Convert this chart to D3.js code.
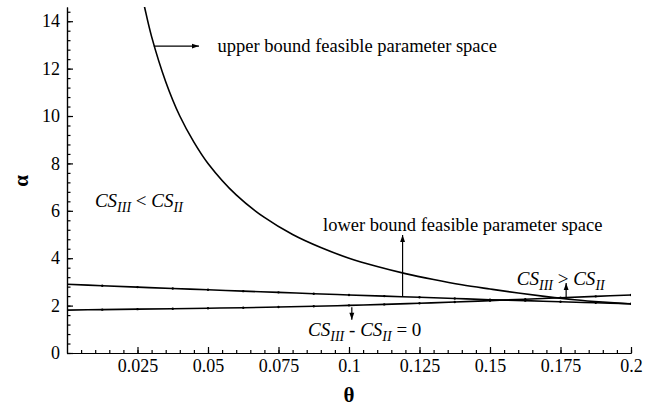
<!DOCTYPE html>
<meta charset="utf-8">
<style>
  body { margin: 0; background: #fff; }
  text { font-family: "Liberation Serif", "Times New Roman", serif; }
</style>
<script src="https://d3js.org/d3.v7.min.js"></script>
<div id="graph"></div>
<script>
  // upper bound curve (theta, alpha)
  var thetaUpper = [0.025, 0.0275, 0.03, 0.035, 0.04, 0.045, 0.05, 0.06, 0.07, 0.08, 0.09, 0.10,
                    0.11, 0.12, 0.13, 0.14, 0.15, 0.16, 0.17, 0.18, 0.19, 0.20];
  var alphaUpper = [16.0, 14.6, 13.35, 11.45, 10.0, 8.9, 8.0, 6.67, 5.72, 5.0, 4.45, 4.0,
                    3.65, 3.35, 3.1, 2.88, 2.7, 2.53, 2.38, 2.25, 2.15, 2.07];

  // the two nearly straight lines
  var thetaLines = [0, 0.0125, 0.025, 0.0375, 0.05, 0.0625, 0.075, 0.0875, 0.1,
                    0.1125, 0.125, 0.1375, 0.15, 0.1625, 0.175, 0.1875, 0.2];
  var alphaLower = [2.90, 2.84, 2.78, 2.72, 2.67, 2.61, 2.56, 2.50, 2.45,
                    2.40, 2.35, 2.30, 2.25, 2.21, 2.16, 2.12, 2.08];
  var alphaZero  = [1.81, 1.83, 1.85, 1.87, 1.89, 1.91, 1.94, 1.97, 2.01,
                    2.05, 2.10, 2.15, 2.21, 2.27, 2.33, 2.39, 2.45];

  var xTicks = [0.025, 0.05, 0.075, 0.1, 0.125, 0.15, 0.175, 0.2];
  var xTickLabels = ["0.025", "0.05", "0.075", "0.1", "0.125", "0.15", "0.175", "0.2"];
  var yTicks = [0, 2, 4, 6, 8, 10, 12, 14];

  var W = 656, H = 409;
  var svg = d3.select("#graph").append("svg")
    .attr("width", W).attr("height", H);

  var x = d3.scaleLinear().domain([0, 0.2]).range([67, 631]);
  var y = d3.scaleLinear().domain([0, 14.6]).range([353, 7]);

  svg.append("clipPath").attr("id", "clip")
    .append("rect").attr("x", 67).attr("y", 7).attr("width", 564).attr("height", 346);

  // minor ticks
  svg.append("g").attr("transform", "translate(0,353)")
    .call(d3.axisBottom(x).tickValues(d3.range(1, 41).map(function (i) { return i * 0.005; }))
      .tickSize(-3).tickSizeOuter(0).tickFormat(""));
  svg.append("g").attr("transform", "translate(67,0)")
    .call(d3.axisLeft(y).tickValues(d3.range(0, 37).map(function (i) { return i * 0.4; }))
      .tickSize(-3.5).tickSizeOuter(0).tickFormat(""));

  // major ticks
  svg.append("g").attr("transform", "translate(0,353)")
    .call(d3.axisBottom(x).tickValues(xTicks).tickSize(-6).tickSizeOuter(0).tickPadding(6)
      .tickFormat(function (d, i) { return xTickLabels[i]; }));
  svg.append("g").attr("transform", "translate(67,0)")
    .call(d3.axisLeft(y).tickValues(yTicks).tickSize(-6).tickSizeOuter(0).tickPadding(7));

  svg.selectAll(".tick line, .domain").attr("stroke", "#000").attr("stroke-width", 1.2);
  svg.selectAll(".tick text")
    .attr("font-family", "Liberation Serif, Times New Roman, serif")
    .attr("font-size", 18).attr("fill", "#000");

  // axis titles
  svg.append("text").attr("x", 349).attr("y", 402).attr("text-anchor", "middle")
    .attr("font-size", 21).attr("font-weight", "bold").text("θ");
  svg.append("text").attr("transform", "translate(28,181) rotate(-90)")
    .attr("text-anchor", "middle").attr("font-size", 21).attr("font-weight", "bold").text("α");

  var smooth = d3.line()
    .x(function (d) { return x(d[0]); })
    .y(function (d) { return y(d[1]); })
    .curve(d3.curveCatmullRom.alpha(0.5));

  var upper = d3.zip(thetaUpper, alphaUpper);
  var lower = d3.zip(thetaLines, alphaLower);
  var zero = d3.zip(thetaLines, alphaZero);

  var plot = svg.append("g").attr("clip-path", "url(#clip)");
  [upper, lower, zero].forEach(function (s) {
    plot.append("path").datum(s).attr("d", smooth)
      .attr("fill", "none").attr("stroke", "#000").attr("stroke-width", 1.6);
  });
  [lower, zero].forEach(function (s) {
    plot.selectAll(null).data(s).enter().append("circle")
      .attr("cx", function (d) { return x(d[0]); })
      .attr("cy", function (d) { return y(d[1]); })
      .attr("r", 1.2).attr("fill", "#000");
  });

  // arrows
  svg.append("defs").append("marker").attr("id", "head")
    .attr("viewBox", "0 0 10 10").attr("refX", 10).attr("refY", 5)
    .attr("markerWidth", 9).attr("markerHeight", 7).attr("orient", "auto")
    .attr("markerUnits", "userSpaceOnUse")
    .append("path").attr("d", "M0,1.5 L10,5 L0,8.5 Z").attr("fill", "#000");

  function arrow(t1, a1, t2, a2) {
    svg.append("line")
      .attr("x1", x(t1)).attr("y1", y(a1)).attr("x2", x(t2)).attr("y2", y(a2))
      .attr("stroke", "#000").attr("stroke-width", 1.2).attr("marker-end", "url(#head)");
  }
  arrow(0.0308, 12.95, 0.0468, 12.95);
  arrow(0.119, 2.38, 0.119, 4.98);
  arrow(0.177, 2.30, 0.177, 2.95);
  arrow(0.101, 1.93, 0.101, 1.40);

  function label(t, a, s) {
    svg.append("text").attr("x", x(t)).attr("y", y(a)).attr("font-size", 18.5).text(s);
  }
  label(0.0534, 12.72, "upper bound feasible parameter space");
  label(0.0908, 5.15, "lower bound feasible parameter space");

  // CS expressions with subscripts
  function cs(t, a, parts) {
    var txt = svg.append("text").attr("x", x(t)).attr("y", y(a))
      .attr("font-style", "italic").attr("font-size", 19);
    parts.forEach(function (p) {
      txt.append("tspan").attr("font-size", p[1] ? 14 : 19)
        .attr("dy", p[1] ? 5 : (p[2] ? -5 : 0))
        .attr("font-style", p[3] ? "normal" : "italic")
        .text(p[0]);
    });
  }
  cs(0.0099, 6.16, [["CS"], ["III", true], [" < ", false, true, true], ["CS"], ["II", true]]);
  cs(0.1595, 2.87, [["CS"], ["III", true], [" > ", false, true, true], ["CS"], ["II", true]]);
  cs(0.0855, 0.72, [["CS"], ["III", true], [" - ", false, true, true], ["CS"], ["II", true], [" = 0", false, true, true]]);
</script>
